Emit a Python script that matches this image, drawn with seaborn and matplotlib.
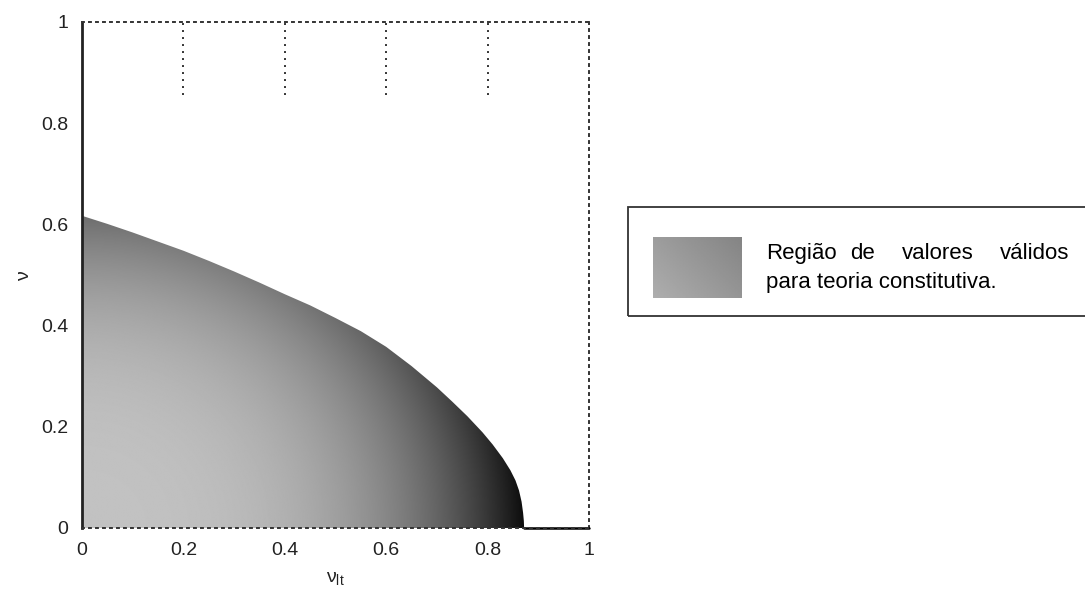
import numpy as np
import pandas as pd
import matplotlib
matplotlib.use("Agg")
import matplotlib.pyplot as plt
from matplotlib.patches import Polygon, Rectangle
import seaborn as sns

# Upper limit of the admissible region: nu as a function of nu_lt
nu_lt_edge = [0.0, 0.05, 0.1, 0.15, 0.2, 0.25, 0.3, 0.35, 0.4, 0.45, 0.5,
              0.55, 0.6, 0.65, 0.7, 0.73, 0.76, 0.79, 0.81, 0.83, 0.845,
              0.855, 0.862, 0.867, 0.870, 0.8715, 0.872]
nu_edge = [0.617, 0.601, 0.584, 0.566, 0.548, 0.528, 0.507, 0.485, 0.462,
           0.44, 0.415, 0.389, 0.358, 0.32, 0.278, 0.25, 0.221, 0.189,
           0.165, 0.138, 0.114, 0.094, 0.074, 0.052, 0.03, 0.014, 0.0]

x_ticks = [0, 0.2, 0.4, 0.6, 0.8, 1]
y_ticks = [0, 0.2, 0.4, 0.6, 0.8, 1]
x_tick_labels = ["0", "0.2", "0.4", "0.6", "0.8", "1"]
y_tick_labels = ["0", "0.2", "0.4", "0.6", "0.8", "1"]
top_marks = [0.2, 0.4, 0.6, 0.8]

legend_line1 = ["Região", "de", "valores", "válidos"]
legend_line2 = "para teoria constitutiva."

sns.set_style("white")
plt.rcParams["font.family"] = ["Liberation Sans", "DejaVu Sans"]

W, H = 1085, 602
fig = plt.figure(figsize=(W / 100, H / 100), dpi=100)
ax = fig.add_axes([82 / W, 1 - 528 / H, 507 / W, 506 / H])

# Shaded surface: lightness falls off away from the origin
gx = np.linspace(0, 1, 700)
gy = np.linspace(0, 1, 700)
XX, YY = np.meshgrid(gx, gy)
s = XX ** 2 / 0.76 + 1.2 * YY ** 2 / 0.76
light = 0.76 - 0.71 * np.clip(s, 0, None) ** 1.5
light = np.clip(light, 0.03, 1)
im = ax.imshow(light, origin="lower", extent=[0, 1, 0, 1], cmap="gray",
               vmin=0, vmax=1, interpolation="bilinear", aspect="auto", zorder=1)

region = pd.DataFrame({"nu_lt": nu_lt_edge, "nu": nu_edge})
verts = [(0, 0)] + list(zip(region["nu_lt"], region["nu"])) + [(region["nu_lt"].iloc[-1], 0)]
clip = Polygon(verts, closed=True, facecolor="none", edgecolor="none",
               transform=ax.transData)
ax.add_patch(clip)
im.set_clip_path(clip)

# Flat edge of the surface along nu = 0 beyond the region
tail = pd.DataFrame({"nu_lt": [region["nu_lt"].iloc[-1], 1.0], "nu": [0.0, 0.0]})
sns.lineplot(data=tail, x="nu_lt", y="nu", ax=ax, color="black", lw=1.8,
             zorder=4, clip_on=False)

# Dotted marks hanging from the top edge
ax.vlines(top_marks, 0.855, 1.0, colors="#333333", linestyles=(0, (1, 2.6)),
          lw=1.4, zorder=3)

ax.set_xlim(0, 1)
ax.set_ylim(0, 1)
ax.set_xticks(x_ticks)
ax.set_xticklabels(x_tick_labels)
ax.set_yticks(y_ticks)
ax.set_yticklabels(y_tick_labels)
ax.tick_params(axis="both", length=0, labelsize=14, colors="#222222")
ax.tick_params(axis="x", pad=10)
ax.tick_params(axis="y", pad=10)

ax.spines["left"].set_color("#222222")
ax.spines["left"].set_linewidth(2.0)
for side in ["top", "right", "bottom"]:
    ax.spines[side].set_color("#333333")
    ax.spines[side].set_linewidth(1.4)
    ax.spines[side].set_linestyle((0, (1, 2.6)))
ax.spines["bottom"].set_zorder(5)

ax.set_xlabel(r"$\mathregular{\nu_{lt}}$", fontsize=14, labelpad=8, color="#222222")
ax.set_ylabel(r"$\mathregular{\nu}$", fontsize=14, labelpad=6, color="#222222")


# Legend box drawn in figure pixel coordinates
def fx(px):
    return px / W


def fy(py):
    return 1 - py / H


box = Rectangle((fx(628), fy(316)), fx(1092) - fx(628), fy(207) - fy(316),
                transform=fig.transFigure, facecolor="none",
                edgecolor="#333333", lw=1.3, clip_on=False, zorder=0.5)
fig.patches.append(box)

lax = fig.add_axes([fx(653), fy(298), fx(742) - fx(653), fy(237) - fy(298)])
lax.set_zorder(2)
lg = np.linspace(0, 1, 60)
LX, LY = np.meshgrid(lg, lg)
swatch = 0.68 - 0.16 * (0.6 * LX + 0.4 * LY)
lax.imshow(swatch, origin="lower", cmap="gray", vmin=0, vmax=1,
           extent=[0, 1, 0, 1], aspect="auto")
lax.set_axis_off()

word_x = [766, 850, 902, 1000]
for wx, word in zip(word_x, legend_line1):
    fig.text(fx(wx), fy(259), word, fontsize=16, ha="left", va="baseline",
             color="black")
fig.text(fx(766), fy(288), legend_line2, fontsize=16, ha="left",
         va="baseline", color="black")

fig.savefig("out.png", dpi=100)
